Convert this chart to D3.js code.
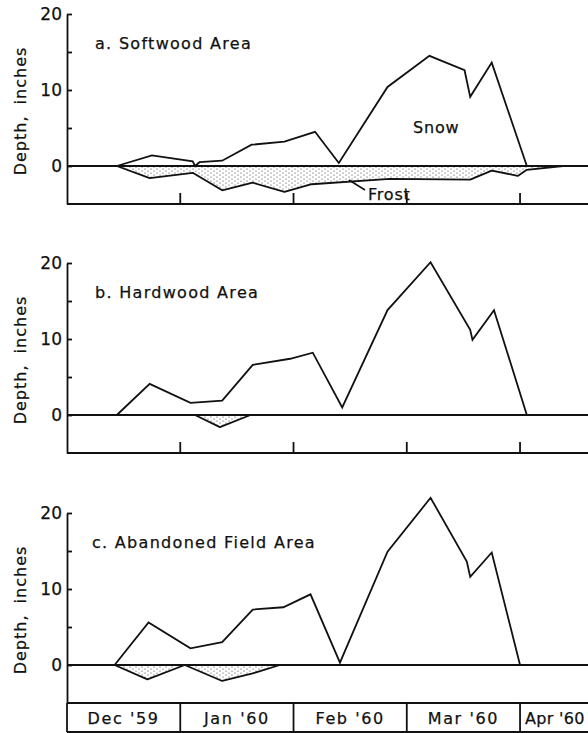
<!DOCTYPE html>
<html>
<head>
	<script src="https://cdn.jsdelivr.net/npm/d3@7"></script>
	<style>
		html, body { padding: 0; margin: 0; background: #fff; }
		text { font-family: "DejaVu Sans", sans-serif; fill: #111; stroke: #111; stroke-width: 0.25; }
	</style>
</head>
<body>
<script>
	var width = 588, height = 733;

	// time in months since 1 Dec 1959, value in inches (frost negative)
	var months = ["Dec '59", "Jan '60", "Feb '60", "Mar '60", "Apr '60"];
	var titles = ["a. Softwood Area", "b. Hardwood Area", "c. Abandoned Field Area"];
	var yTicks = [20, 15, 10, 5, 0];

	var snowA = [[0.44,0],[0.75,1.4],[1.11,0.6],[1.13,0.0],[1.17,0.5],[1.37,0.7],[1.63,2.8],
	             [1.92,3.2],[2.19,4.5],[2.40,0.4],[2.83,10.4],[3.20,14.5],[3.51,12.6],[3.56,9.1],
	             [3.75,13.6],[4.06,0]];
	var frostA = [[0.44,0],[0.73,-1.6],[1.11,-0.9],[1.37,-3.2],[1.64,-2.2],[1.92,-3.4],[2.16,-2.4],
	              [2.85,-1.7],[3.56,-1.8],[3.75,-0.6],[3.98,-1.3],[4.06,-0.5],[4.38,0]];
	var snowB = [[0.44,0],[0.73,4.1],[1.09,1.6],[1.37,1.9],[1.64,6.6],[1.97,7.4],[2.17,8.2],
	             [2.43,1.0],[2.83,13.8],[3.21,20.1],[3.56,11.2],[3.58,9.9],[3.77,13.8],[4.06,0]];
	var frostB = [[1.13,0],[1.35,-1.6],[1.62,0]];
	var snowC = [[0.42,0],[0.72,5.6],[1.09,2.2],[1.37,3.0],[1.64,7.3],[1.91,7.6],[2.15,9.3],
	             [2.41,0.3],[2.83,14.9],[3.21,22.0],[3.53,13.6],[3.56,11.6],[3.75,14.8],[4.00,0]];
	var frostC = [[0.42,0],[0.71,-1.9],[1.04,0],[1.37,-2.1],[1.64,-1.1],[1.88,0]];

	var snowSets = [snowA, snowB, snowC];
	var frostSets = [frostA, frostB, frostC];

	var svg = d3.select("body").append("svg")
		.attr("width", width)
		.attr("height", height);

	var pat = svg.append("defs").append("pattern")
		.attr("id", "stipple")
		.attr("width", 6).attr("height", 4)
		.attr("patternUnits", "userSpaceOnUse");
	pat.append("circle").attr("cx", 1).attr("cy", 1).attr("r", 0.6).attr("fill", "#333");
	pat.append("circle").attr("cx", 4).attr("cy", 3).attr("r", 0.6).attr("fill", "#333");

	var x = d3.scaleLinear().domain([0, 4.6]).range([67, 588]);
	var panelTops = [14, 263, 513];
	var panelH = 190;

	panelTops.forEach(function(top, p) {
		var y = d3.scaleLinear().domain([-5, 20]).range([top + panelH, top]);
		var g = svg.append("g");

		// frost area
		var area = d3.area()
			.x(function(d) { return x(d[0]); })
			.y0(y(0))
			.y1(function(d) { return y(d[1]); });
		g.append("path")
			.datum(frostSets[p])
			.attr("d", area)
			.attr("fill", "url(#stipple)")
			.attr("stroke", "#111")
			.attr("stroke-width", 1.8)
			.attr("stroke-linejoin", "round");

		// zero line and bottom line
		g.append("line")
			.attr("x1", x(0)).attr("x2", width)
			.attr("y1", y(0)).attr("y2", y(0))
			.attr("stroke", "#111").attr("stroke-width", 1.8);
		g.append("line")
			.attr("x1", x(0)).attr("x2", width)
			.attr("y1", y(-5)).attr("y2", y(-5))
			.attr("stroke", "#111").attr("stroke-width", 1.8);

		// snow line
		var line = d3.line()
			.x(function(d) { return x(d[0]); })
			.y(function(d) { return y(d[1]); });
		g.append("path")
			.datum(snowSets[p])
			.attr("d", line)
			.attr("fill", "none")
			.attr("stroke", "#111")
			.attr("stroke-width", 1.8)
			.attr("stroke-linejoin", "miter");

		// y axis
		var ax = g.append("g")
			.attr("transform", "translate(" + x(0) + ",0)")
			.call(d3.axisLeft(y)
				.tickValues(yTicks)
				.tickSizeInner(-5)
				.tickSizeOuter(0)
				.tickPadding(5)
				.tickFormat(function(d) { return d % 10 === 0 ? d : ""; }));
		ax.selectAll("path, line").attr("stroke", "#111").attr("stroke-width", 1.8);
		ax.selectAll("text")
			.style("font-family", "DejaVu Sans, sans-serif")
			.attr("font-size", 17)
			.attr("fill", "#111");

		g.append("text")
			.attr("transform", "translate(26," + (y(7.5) + 2) + ") rotate(-90)")
			.attr("text-anchor", "middle")
			.attr("font-size", 16)
			.attr("letter-spacing", 1)
			.attr("word-spacing", 5)
			.text("Depth, inches");

		g.append("text")
			.attr("x", p === 2 ? 92 : 95)
			.attr("y", y(15.5) + 1)
			.attr("font-size", 16)
			.attr("letter-spacing", 1.3)
			.text(titles[p]);

		// month ticks on bottom line (panels a, b)
		if (p < 2) {
			g.selectAll(".mtick")
				.data([1, 2, 3, 4])
				.enter().append("line")
				.attr("x1", function(d) { return x(d); })
				.attr("x2", function(d) { return x(d); })
				.attr("y1", y(-5))
				.attr("y2", y(-5) - 11)
				.attr("stroke", "#111").attr("stroke-width", 1.8);
		} else {
			var boxBottom = y(-5) + 29;
			g.append("line")
				.attr("x1", x(0)).attr("x2", width)
				.attr("y1", boxBottom).attr("y2", boxBottom)
				.attr("stroke", "#111").attr("stroke-width", 1.8);
			g.selectAll(".mdiv")
				.data([0, 1, 2, 3, 4])
				.enter().append("line")
				.attr("x1", function(d) { return x(d); })
				.attr("x2", function(d) { return x(d); })
				.attr("y1", y(-5))
				.attr("y2", boxBottom)
				.attr("stroke", "#111").attr("stroke-width", 1.8);
			g.selectAll(".mlab")
				.data(months)
				.enter().append("text")
				.attr("x", function(d, i) { return i < 4 ? x(i + 0.5) : x(i) + 5; })
				.attr("y", boxBottom - 8)
				.attr("text-anchor", function(d, i) { return i < 4 ? "middle" : "start"; })
				.attr("font-size", 16)
				.attr("letter-spacing", function(d, i) { return i < 4 ? 1.6 : 0.3; })
				.text(function(d) { return d; });
		}

		if (p === 0) {
			g.append("text")
				.attr("x", 413).attr("y", 133)
				.attr("font-size", 16)
				.attr("letter-spacing", 0.8)
				.text("Snow");
			g.append("text")
				.attr("x", 368).attr("y", 200)
				.attr("font-size", 16)
				.attr("letter-spacing", 0.8)
				.text("Frost");
			g.append("line")
				.attr("x1", 349).attr("y1", 180)
				.attr("x2", 365).attr("y2", 190)
				.attr("stroke", "#111").attr("stroke-width", 1.5);
		}
	});
</script>
</body>
</html>
